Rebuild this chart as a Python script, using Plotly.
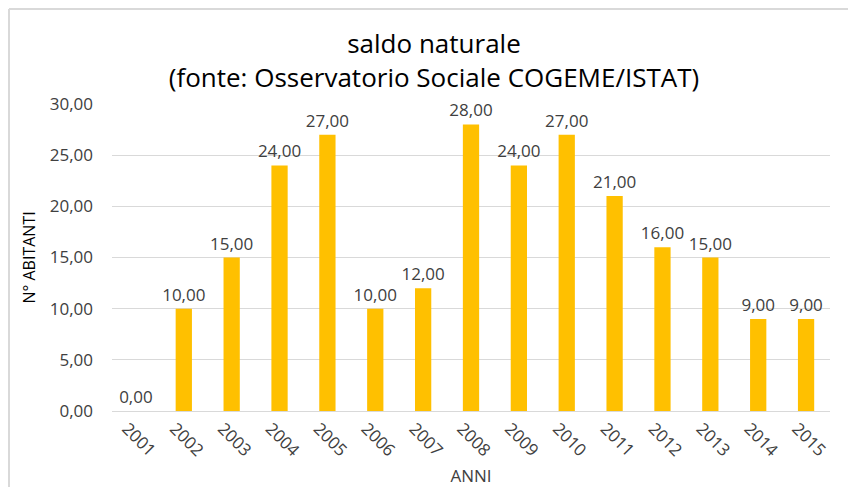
import plotly.graph_objects as go

anni = ["2001", "2002", "2003", "2004", "2005", "2006", "2007", "2008",
        "2009", "2010", "2011", "2012", "2013", "2014", "2015"]
saldo = [0, 10, 15, 24, 27, 10, 12, 28, 24, 27, 21, 16, 15, 9, 9]
y_ticks = [0, 5, 10, 15, 20, 25, 30]

FONT = "Open Sans, Noto Sans, sans-serif"

fig = go.Figure(go.Bar(
    x=anni, y=saldo,
    marker=dict(color="#FFC000", line=dict(width=0)),
    width=0.34,
    texttemplate="%{y:.2f}",
    textposition="outside",
    constraintext="none",
    textfont=dict(family=FONT, size=17, color="#404040"),
    cliponaxis=False,
))

W, H = 848, 487
L, R, T, B = 112, 18, 104, 76
pw, ph = W - L - R, H - T - B
def px(x): return (x - L) / pw
def py(y): return (H - B - y) / ph

fig.update_layout(
    width=W, height=H,
    margin=dict(l=L, r=R, t=T, b=B, autoexpand=False),
    paper_bgcolor="white", plot_bgcolor="white",
    separators=",.",
    showlegend=False,
    title=dict(
        text="saldo naturale<br>(fonte: Osservatorio Sociale COGEME/ISTAT)",
        x=434 / W, xanchor="center", xref="container",
        y=1 - 53 / H, yanchor="middle",
        font=dict(family=FONT, size=26, color="#000000"),
    ),
    xaxis=dict(
        tickangle=45,
        tickfont=dict(family=FONT, size=17, color="#404040"),
        ticklabelshift=-9,
        title=dict(text="ANNI", font=dict(family=FONT, size=17, color="#404040"), standoff=13),
        showline=True, linecolor="#d9d9d9", linewidth=1,
        ticks="",
        automargin=False,
    ),
    yaxis=dict(
        range=[0, 30],
        tickvals=y_ticks,
        tickformat=".2f",
        tickfont=dict(family=FONT, size=17, color="#404040"),
        gridcolor="#d9d9d9", gridwidth=1,
        zeroline=False,
        ticklabelstandoff=18,
        automargin=False,
        title=dict(text="N° ABITANTI", font=dict(family=FONT, size=16, color="#000000"), standoff=10),
    ),
    shapes=[
        dict(type="line", xref="paper", yref="paper",
             x0=px(9), x1=px(9), y0=py(9), y1=py(H + 5),
             line=dict(color="#d9d9d9", width=2)),
        dict(type="line", xref="paper", yref="paper",
             x0=px(9), x1=px(W + 5), y0=py(9), y1=py(9),
             line=dict(color="#d9d9d9", width=2)),
    ],
)

fig.write_html("out.html", config={"displayModeBar": False},
               post_script="document.body.style.margin='0';document.body.style.overflow='hidden';")
